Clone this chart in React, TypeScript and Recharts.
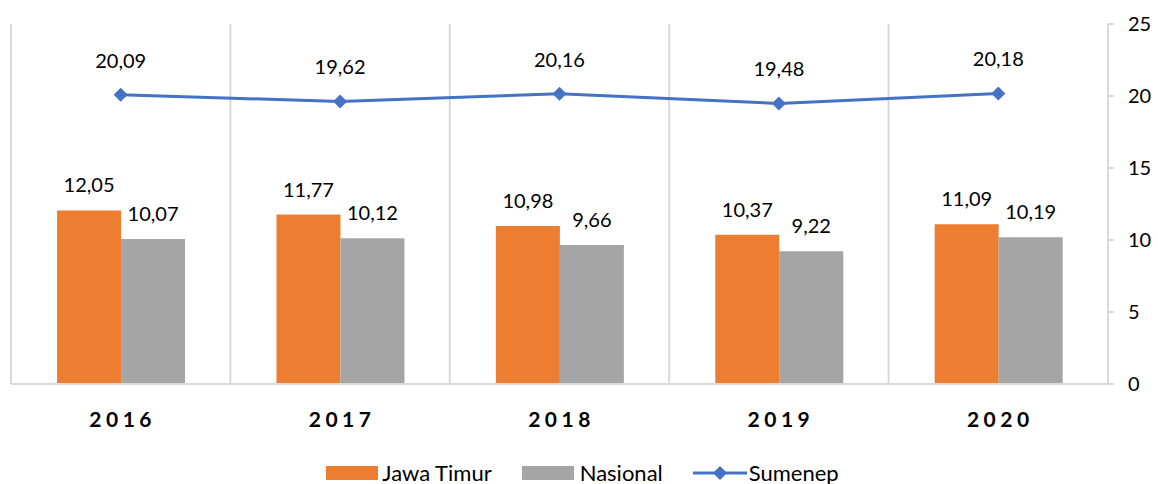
import React from 'react';
import {
  ComposedChart,
  Bar,
  Line,
  XAxis,
  YAxis,
  LabelList,
  Legend,
  ReferenceLine,
} from 'recharts';

const YEARS = ['2016', '2017', '2018', '2019', '2020'];
const JAWA_TIMUR = [12.05, 11.77, 10.98, 10.37, 11.09];
const NASIONAL = [10.07, 10.12, 9.66, 9.22, 10.19];
const SUMENEP = [20.09, 19.62, 20.16, 19.48, 20.18];
const Y_TICKS = [0, 5, 10, 15, 20, 25];

const ORANGE = '#ED7D31';
const GRAY = '#A5A5A5';
const BLUE = '#4472C4';
const GRID = '#D9D9D9';
const FONT = 'Lato, "Open Sans", sans-serif';

const data = YEARS.map((year, i) => ({
  year,
  jawaTimur: JAWA_TIMUR[i],
  nasional: NASIONAL[i],
  sumenep: SUMENEP[i],
}));

const fmt = (v: any) => Number(v).toFixed(2).replace('.', ',');

function Diamond(props: any) {
  const { cx, cy } = props;
  if (cx == null || cy == null) return null;
  const s = 7;
  return <polygon points={`${cx},${cy - s} ${cx + s},${cy} ${cx},${cy + s} ${cx - s},${cy}`} fill={BLUE} />;
}

function YearTick(props: any) {
  const { x, y, payload } = props;
  return (
    <text x={x + 2} y={y + 35} textAnchor="middle" fontFamily={FONT} fontSize={21} fontWeight={700} letterSpacing={4.5} fill="#000">
      {payload.value}
    </text>
  );
}

function LegendContent() {
  const item = { display: 'flex', alignItems: 'center', marginRight: 30 } as const;
  return (
    <div style={{ display: 'flex', justifyContent: 'center', fontFamily: FONT, fontSize: 22, lineHeight: '22px', color: '#000', paddingLeft: 26 }}>
      <div style={item}>
        <span style={{ width: 52, height: 14, background: ORANGE, display: 'inline-block', marginRight: 4 }} />
        Jawa Timur
      </div>
      <div style={item}>
        <span style={{ width: 52, height: 14, background: GRAY, display: 'inline-block', marginRight: 6 }} />
        Nasional
      </div>
      <div style={item}>
        <svg width={56} height={16}>
          <line x1={0} y1={8} x2={54} y2={8} stroke={BLUE} strokeWidth={3} />
          <polygon points="27,1 34,8 27,15 20,8" fill={BLUE} />
        </svg>
        Sumenep
      </div>
    </div>
  );
}

export default function App() {
  return (
    <div style={{ position: 'absolute', left: 0, top: 0, background: '#fff' }}>
      <ComposedChart
        width={1158}
        height={484}
        data={data}
        margin={{ top: 24, right: 0, left: 11, bottom: 0 }}
        barCategoryGap="21%"
        barGap={0}
      >
        <XAxis dataKey="year" axisLine={{ stroke: GRID, strokeWidth: 2 }} tickLine={false} tick={<YearTick />} height={78} interval={0} />
        <YAxis
          orientation="right"
          domain={[0, 25]}
          ticks={Y_TICKS}
          axisLine={{ stroke: GRID, strokeWidth: 2 }}
          tickLine={{ stroke: GRID, strokeWidth: 2 }}
          tickSize={6}
          tickMargin={14}
          width={50}
          tick={{ fill: '#000', fontSize: 20, fontFamily: FONT, textAnchor: 'start' }}
        />
        {YEARS.map((y) => (
          <ReferenceLine key={y} x={y} position="start" stroke={GRID} strokeWidth={2} />
        ))}
        <Bar dataKey="jawaTimur" name="Jawa Timur" fill={ORANGE} isAnimationActive={false}>
          <LabelList dataKey="jawaTimur" position="top" offset={18} formatter={fmt} fill="#000" fontSize={20} fontFamily={FONT} />
        </Bar>
        <Bar dataKey="nasional" name="Nasional" fill={GRAY} isAnimationActive={false}>
          <LabelList dataKey="nasional" position="top" offset={18} formatter={fmt} fill="#000" fontSize={20} fontFamily={FONT} />
        </Bar>
        <Line
          dataKey="sumenep"
          name="Sumenep"
          stroke={BLUE}
          strokeWidth={3}
          dot={<Diamond />}
          activeDot={false}
          isAnimationActive={false}
        >
          <LabelList dataKey="sumenep" position="top" offset={27} formatter={fmt} fill="#000" fontSize={20} fontFamily={FONT} />
        </Line>
        <Legend verticalAlign="bottom" height={22} content={<LegendContent />} />
      </ComposedChart>
    </div>
  );
}
